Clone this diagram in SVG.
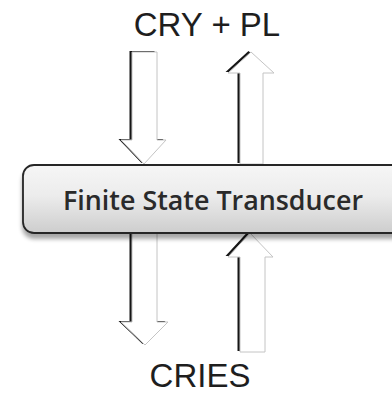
<svg xmlns="http://www.w3.org/2000/svg" width="392" height="395" viewBox="0 0 392 395">
  <style>
    .label { font-family: "Liberation Sans", Arial, sans-serif; font-size: 33px; fill: #1e1e1e; }
    .box-text { font-family: "Open Sans", "Liberation Sans", sans-serif; font-size: 27px; font-weight: 600; fill: #2a2a2a; }
    .arrow-shadow { fill: #161616; filter: url(#soft); }
    .arrow-body { fill: #ffffff; stroke: #c4c4c4; stroke-width: 1; }
  </style>
  <defs>
    <linearGradient id="boxFill" x1="0" y1="0" x2="0" y2="1">
      <stop offset="0" stop-color="#f6f6f6"/>
      <stop offset="0.45" stop-color="#ececec"/>
      <stop offset="1" stop-color="#cdcdcd"/>
    </linearGradient>
    <filter id="soft" x="-20%" y="-20%" width="140%" height="140%">
      <feGaussianBlur stdDeviation="0.6"/>
    </filter>
    <filter id="boxShadow" x="-10%" y="-20%" width="120%" height="160%">
      <feGaussianBlur in="SourceAlpha" stdDeviation="2"/>
      <feOffset dx="0" dy="5" result="blur"/>
      <feComponentTransfer result="shade">
        <feFuncA type="linear" slope="0.35"/>
      </feComponentTransfer>
      <feMerge>
        <feMergeNode in="shade"/>
        <feMergeNode in="SourceGraphic"/>
      </feMerge>
    </filter>
  </defs>

  <rect width="392" height="395" fill="#ffffff"/>

  <!-- block arrows between the labels and the transducer -->
  <g id="connectors">
    <g id="arrow-in">
      <path class="arrow-shadow" transform="translate(-2.5,-1)" d="M132,52 H157 V140 H166 L144,164 L121,140 H132 Z"/>
      <path class="arrow-body" d="M132,52 H157 V140 H166 L144,164 L121,140 H132 Z"/>
    </g>
    <g id="arrow-out">
      <path class="arrow-shadow" transform="translate(-2.5,-1)" d="M251,52 L274,73 H263 V164 H240 V73 H228 Z"/>
      <path class="arrow-body" d="M251,52 L274,73 H263 V164 H240 V73 H228 Z"/>
    </g>
    <g id="arrow-down">
      <path class="arrow-shadow" transform="translate(-2.5,-1)" d="M132,233 H157 V322 H168 L145,345 L121,322 H132 Z"/>
      <path class="arrow-body" d="M132,233 H157 V322 H168 L145,345 L121,322 H132 Z"/>
    </g>
    <g id="arrow-up">
      <path class="arrow-shadow" transform="translate(-2.5,-1)" d="M250,233 L273,257 H265 V352 H240 V257 H228 Z"/>
      <path class="arrow-body" d="M250,233 L273,257 H265 V352 H240 V257 H228 Z"/>
    </g>
  </g>

  <g id="transducer">
    <rect x="23" y="165" width="400" height="68" rx="11" ry="11" fill="url(#boxFill)" stroke="#262626" stroke-width="1.8" filter="url(#boxShadow)"/>
    <text class="box-text" x="213" y="210" text-anchor="middle" textLength="300" lengthAdjust="spacingAndGlyphs">Finite State Transducer</text>
  </g>

  <g id="input-label">
    <text class="label" x="207" y="36" text-anchor="middle">CRY + PL</text>
  </g>

  <g id="output-label">
    <text class="label" x="200" y="387" text-anchor="middle">CRIES</text>
  </g>
</svg>
